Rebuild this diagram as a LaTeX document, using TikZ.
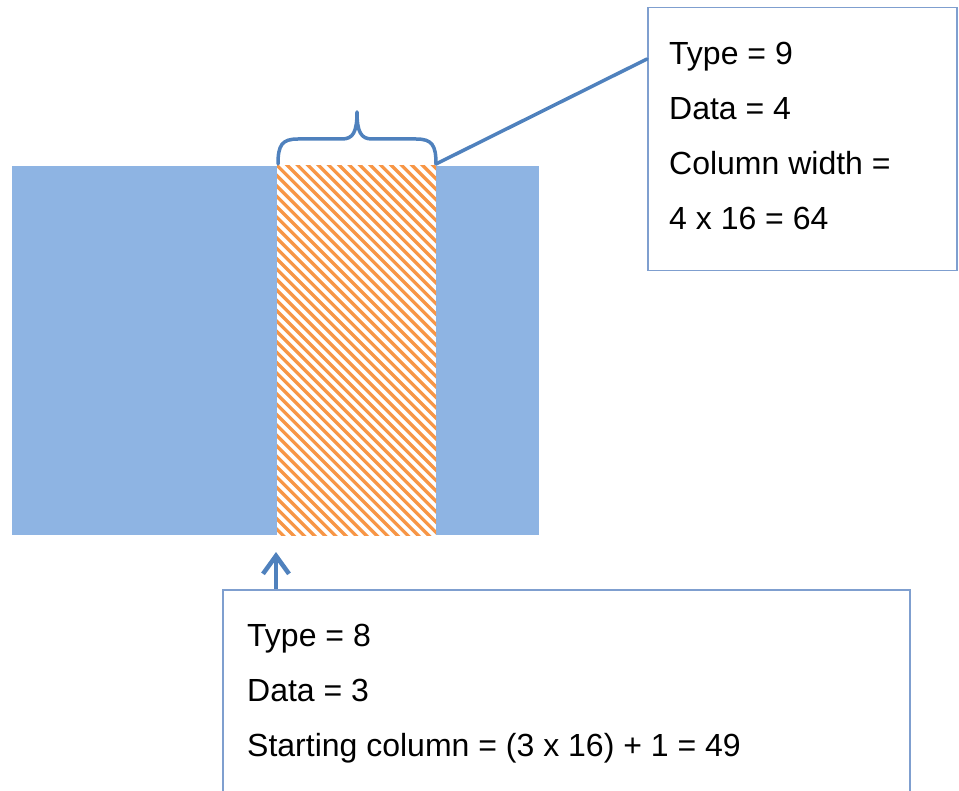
\documentclass[tikz,border=0pt]{standalone}
\usepackage{fontspec}
\setmainfont{Liberation Sans}
\usetikzlibrary{arrows.meta}
\definecolor{fillblue}{RGB}{142,180,227}
\definecolor{lineblue}{RGB}{79,129,189}
\definecolor{boxblue}{RGB}{127,159,207}
\definecolor{hatchorange}{RGB}{247,150,70}
\tikzset{
  txt/.style={anchor=base west, inner sep=0pt, font=\fontsize{32}{38}\selectfont},
  callbox/.style={draw=boxblue, line width=1.5pt, fill=white, anchor=north west, inner sep=0pt},
  conn/.style={draw=lineblue, line width=3.5pt, line cap=round, line join=round},
}
\begin{document}
\begin{tikzpicture}[x=1pt,y=-1pt]
\useasboundingbox (0,0) rectangle (959,791);
% main blue block
\node[fill=fillblue, anchor=north west, inner sep=0pt, minimum width=527pt, minimum height=369pt] (block) at (12,166) {};
% hatched column
\node[fill=white, anchor=north west, inner sep=0pt, minimum width=159pt, minimum height=369pt] (col) at (277,166) {};
\begin{scope}
  \clip (277,166) rectangle (436,535);
  \foreach \k in {-38,...,17} {
    \draw[hatchorange, line width=3.3pt] (282+\k*10.4,160) -- ++(420,420);
  }
\end{scope}
% brace
\coordinate (braceL) at (278,164);
\coordinate (braceR) at (436,164);
\coordinate (braceTip) at (357,112);
\draw[conn] (braceL) .. controls (278,145) and (282,139) .. (298,139) -- (342,139)
  .. controls (353,139) and (357,132) .. (braceTip)
  .. controls (357,132) and (361,139) .. (372,139) -- (416,139)
  .. controls (432,139) and (436,145) .. (braceR);
% top callout box
\node[callbox, minimum width=309pt, minimum height=263pt] (topbox) at (647,7) {};
\coordinate (callin) at (647,59);
\draw[conn] (braceR) -- (callin);
\node[txt] (t1) at (669,65) {Type = 9};
\node[txt] (t2) at (669,120) {Data = 4};
\node[txt] (t3) at (669,175) {Column width =};
\node[txt] (t4) at (669,230) {4 x 16 = 64};
% bottom box
\node[callbox, minimum width=687pt, minimum height=205pt] (botbox) at (222,589) {};
\node[txt] (b1) at (247,646) {Type = 8};
\node[txt] (b2) at (247,701) {Data = 3};
\node[txt] (b3) at (247,756) {Starting column = (3 x 16) + 1 = 49};
% arrow
\coordinate (arrbase) at (276,589);
\coordinate (arrtip) at (276,552);
\draw[lineblue, line width=4.5pt, -{Straight Barb[length=18pt, width=26pt, line width=4.5pt]}] (arrbase) -- (arrtip);
\end{tikzpicture}
\end{document}
